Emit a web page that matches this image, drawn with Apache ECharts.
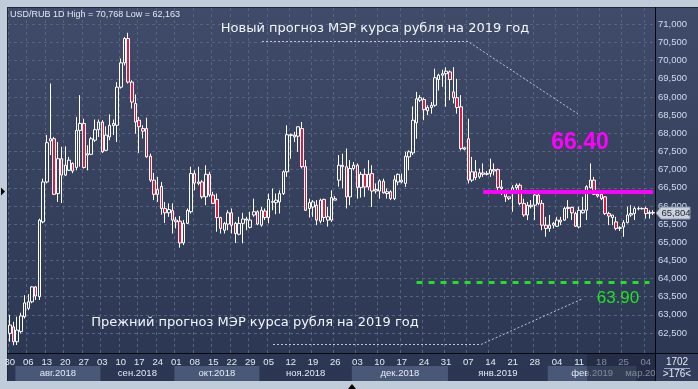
<!DOCTYPE html>
<html><head><meta charset="utf-8">
<script src="https://cdn.jsdelivr.net/npm/echarts@6/dist/echarts.min.js"></script>
<style>html,body{margin:0;padding:0;background:#c0ccda;}#c{width:698px;height:389px;}</style>
</head><body><div id="c"></div>
<script>
// ---- data ----
// daily candles USD/RUB: [open, close, low, high]
const candles = [
[62.49,62.72,62.26,63.00],[62.67,62.26,62.163,62.81],[62.26,62.58,62.17,62.95],[62.54,62.97,62.49,63.06],[62.95,63.33,62.90,63.54],
[63.18,63.36,63.13,63.57],[63.36,63.77,63.32,63.79],[63.77,63.52,63.41,63.79],[63.50,65.61,63.41,65.65],[65.56,66.66,65.52,66.75],
[66.66,67.74,66.62,67.95],[67.79,67.85,67.40,69.37],[67.85,66.32,66.30,67.90],[66.34,67.30,66.11,67.76],[67.30,66.85,66.08,67.63],
[66.85,67.12,66.82,67.64],[66.98,67.26,66.96,67.35],[67.17,66.96,66.90,67.20],[67.06,68.08,66.98,68.45],[68.08,68.27,67.08,69.05],
[68.27,67.06,67.03,68.40],[67.40,67.44,66.98,67.67],[67.42,67.85,67.40,67.90],[67.81,68.10,67.76,68.38],[68.10,68.31,67.90,68.38],
[68.31,67.49,67.46,68.36],[67.53,67.95,67.52,68.19],[67.90,68.22,67.81,68.52],[68.21,68.27,67.95,68.38],[68.22,69.27,67.76,69.41],
[69.27,69.94,69.23,70.06],[69.94,70.61,69.87,70.65],[70.61,69.41,69.37,70.768],[69.41,68.86,68.68,69.46],[68.82,68.31,67.99,69.07],
[68.36,68.18,67.46,68.45],[68.13,68.06,67.86,68.22],[68.13,67.35,67.33,68.43],[67.37,66.71,66.66,67.44],[66.71,66.32,66.16,66.91],
[66.32,66.45,66.11,66.80],[66.54,65.93,65.76,66.66],[65.93,65.81,65.53,66.11],[65.81,65.90,65.70,66.07],[65.87,65.61,65.24,66.07],
[65.61,65.56,65.38,65.70],[65.58,64.98,64.85,65.72],[64.98,65.52,64.92,65.61],[65.52,65.88,65.50,65.93],[65.84,66.89,65.79,67.08],
[66.89,66.63,66.43,66.98],[66.62,66.66,66.57,67.08],[66.66,66.25,66.20,66.71],[66.25,66.87,66.02,67.12],[66.87,66.30,66.25,66.94],
[66.30,66.07,66.05,66.39],[66.18,65.68,65.29,66.34],[65.68,65.38,65.24,65.70],[65.33,65.52,65.24,65.56],[65.50,65.81,65.33,65.88],
[65.81,65.47,65.24,65.93],[65.52,65.24,64.98,65.56],[65.22,65.52,65.19,65.70],[65.52,65.64,64.97,65.81],[65.64,65.61,65.33,65.70],
[65.41,65.61,65.38,65.84],[65.75,65.84,65.70,66.20],[65.84,65.50,65.47,65.88],[65.47,65.88,65.43,65.97],[65.86,65.68,65.61,65.93],
[65.68,66.18,65.52,66.34],[66.10,66.12,65.88,66.48],[66.09,66.16,65.77,66.34],[66.11,66.34,65.79,66.43],[66.34,66.94,66.30,66.98],
[66.94,67.96,66.80,68.22],[67.96,67.94,67.30,67.99],[67.90,67.95,67.76,68.04],[67.92,68.18,67.49,68.19],[68.13,67.08,67.03,68.31],
[67.08,65.88,65.86,67.26],[65.93,66.09,65.68,66.20],[65.97,66.11,65.70,66.16],[66.02,65.61,65.47,66.16],[65.58,66.16,65.52,66.20],
[66.18,65.68,65.56,66.20],[65.61,65.70,65.43,65.97],[65.61,66.23,65.56,66.43],[66.16,66.20,66.16,66.27],[66.71,67.12,66.53,67.40],
[67.08,67.12,66.48,67.44],[67.08,66.25,65.93,67.58],[66.25,67.03,66.02,67.26],[67.03,67.12,66.98,67.21],[67.12,66.51,66.20,67.17],
[66.51,66.87,66.23,66.94],[66.87,66.52,66.25,67.03],[66.52,66.87,66.43,67.26],[66.89,66.41,65.97,67.12],[66.41,66.45,66.34,66.62],
[66.41,66.69,66.20,66.73],[66.68,66.36,66.34,66.75],[66.34,66.39,66.20,66.48],[66.39,66.20,66.16,66.43],[66.20,66.72,66.16,66.84],
[66.66,66.87,66.57,66.89],[66.66,66.71,66.62,66.89],[66.62,67.37,66.52,67.49],[67.35,67.49,66.98,67.53],[67.46,68.36,67.40,68.74],
[68.29,68.95,67.85,69.14],[68.91,68.98,68.86,69.05],[68.93,68.65,68.36,68.98],[68.62,68.71,68.50,68.77],[68.71,68.77,68.54,68.86],
[68.77,69.53,68.73,69.78],[69.48,69.60,69.18,69.64],[69.60,69.64,69.28,69.75],[69.64,69.71,68.73,69.82],[69.69,69.48,68.91,69.73],
[69.14,68.98,68.82,69.82],[68.98,68.71,68.54,69.50],[68.73,67.58,67.53,69.05],[67.60,67.56,67.53,67.63],[67.85,66.71,66.62,68.40],
[66.71,66.94,66.66,67.35],[66.94,66.78,66.71,67.26],[66.80,66.91,66.75,67.03],[66.91,66.87,66.80,67.17],[66.87,66.89,66.84,66.96],
[66.89,67.00,66.80,67.30],[67.00,66.96,66.84,67.17],[67.00,66.51,66.43,67.03],[66.48,66.52,66.30,66.71],[66.41,66.25,66.11,66.45],
[66.25,66.20,66.16,66.25],[66.34,66.50,65.84,66.57],[66.50,66.57,66.34,66.62],[66.57,66.07,66.02,66.62],[66.07,65.75,65.70,66.20],
[65.75,66.02,65.61,66.11],[66.02,65.98,65.93,66.16],[66.02,66.30,65.61,66.34],[66.30,66.07,66.02,66.39],[66.07,65.47,65.33,66.16],
[65.47,65.38,65.15,65.70],[65.38,65.47,65.29,65.75],[65.47,65.52,65.38,65.56],[65.44,65.61,65.42,65.70],[65.61,65.56,65.47,65.70],
[65.61,65.93,65.59,65.98],[65.93,65.96,65.66,66.16],[65.96,65.81,65.61,65.98],[65.79,65.44,65.42,65.84],[65.42,65.88,65.38,65.98],
[65.81,65.88,65.79,66.25],[65.88,66.53,65.61,66.57],[66.50,66.71,66.48,67.17],[66.71,66.32,66.30,66.80],[66.32,66.27,66.23,66.36],
[66.32,66.20,66.16,66.39],[66.25,65.79,65.75,66.27],[65.79,65.72,65.47,65.84],[65.68,65.75,65.47,65.75],[65.56,65.38,65.33,65.70],
[65.38,65.40,65.31,65.44],[65.42,65.54,65.15,65.61],[65.54,65.75,65.52,65.98],[65.75,65.79,65.70,66.02],[65.79,65.93,65.61,65.98],
[65.93,65.92,65.88,65.98],[65.92,65.93,65.90,65.96],[65.93,65.79,65.65,65.98],[65.79,65.82,65.65,65.88],[65.82,65.804,65.75,65.88]
];
const yTicks = [62.5,63,63.5,64,64.5,65,65.5,66,66.5,67,67.5,68,68.5,69,69.5,70,70.5,71];
const newForecast = 66.40;
const oldForecast = 63.90;
const newForecastFrom = 128, newForecastTo = 174;
const oldForecastFrom = 110, oldForecastTo = 173;
const monthNames = ['янв','фев','мар','апр','мая','июн','июл','авг','сен','окт','ноя','дек'];
const newText = 'Новый прогноз МЭР курса рубля на 2019 год';
const oldText = 'Прежний прогноз МЭР курса рубля на 2019 год';

// trading-day categories: Mon-Fri, then Mon-Sat bars from 5 Nov 2018
const firstDay = Date.UTC(2018, 6, 30);
const sixDayFrom = Date.UTC(2018, 10, 5);
const dates = [];
for (let t = firstDay; dates.length < candles.length; t += 86400000) {
  const d = new Date(t).getUTCDay();
  if ((d >= 1 && d <= 5) || (d === 6 && t >= sixDayFrom)) dates.push(new Date(t).toISOString().slice(0, 10));
}
const isWeekStart = i => i === 0 || new Date(dates[i] + 'T00:00:00Z').getUTCDay() === 1;
const fmt3 = v => v.toFixed(3).replace('.', ',');

const FONT = '"Liberation Sans", Arial, sans-serif';
const GL = 8, GT = 8, GR = 655, GB = 353;

const chart = echarts.init(document.getElementById('c'), null, {renderer: 'canvas'});
chart.setOption({
  animation: false,
  backgroundColor: '#c0ccda',
  grid: {left: GL, top: GT, right: 698 - GR, bottom: 389 - GB, containLabel: false},
  xAxis: {
    type: 'category', data: dates, boundaryGap: true,
    axisLine: {show: true, lineStyle: {color: '#05080f', width: 1}},
    axisTick: {show: false},
    axisLabel: {interval: (i) => isWeekStart(i), formatter: v => v.slice(8, 10),
      color: '#e4ebf4', fontSize: 9.5, fontFamily: FONT, margin: 4},
    splitLine: {show: true, interval: (i) => isWeekStart(i),
      lineStyle: {color: '#56637f', width: 1, type: [3, 3]}}
  },
  yAxis: {
    type: 'value', position: 'right', min: 61.95, max: 71.45, scale: true,
    axisLine: {show: true, lineStyle: {color: '#05080f', width: 1}},
    axisTick: {show: false, customValues: yTicks},
    axisLabel: {customValues: yTicks, formatter: v => fmt3(v), color: '#cddcf2',
      fontSize: 9.5, fontFamily: FONT, margin: 3},
    splitLine: {show: true, lineStyle: {color: '#56637f', width: 1, type: [3, 3]}}
  },
  series: [{
    type: 'candlestick', data: candles, barWidth: 3,
    itemStyle: {color: 'rgba(0,0,0,0)', color0: '#e8163c', borderColor: '#ffffff', borderColor0: '#ffffff', borderWidth: 1},
    markLine: {
      symbol: 'none', silent: true, animation: false, label: {show: false},
      emphasis: {disabled: true},
      data: [
        [{coord: [dates[newForecastFrom], newForecast], lineStyle: {color: '#ff00ff', width: 4, type: 'solid', opacity: 1}},
         {coord: [dates[newForecastTo], newForecast]}],
        [{coord: [dates[oldForecastFrom], oldForecast], lineStyle: {color: '#22e022', width: 3, type: [6, 6], opacity: 1}},
         {coord: [dates[oldForecastTo], oldForecast]}]
      ]
    }
  }]
});

// ---- decorations built from the library's scales ----
const xOf = i => chart.convertToPixel({xAxisIndex: 0}, dates[i]);
const yOf = v => chart.convertToPixel({yAxisIndex: 0}, v);
const bw = (GR - GL) / dates.length;
const g = [];
// panel background
g.push({type: 'rect', z: -20, shape: {x: 7, y: 7, width: 691, height: 374},
  style: {fill: new echarts.graphic.LinearGradient(0, 0, 0, 1, [{offset: 0, color: '#3f4b68'}, {offset: 1, color: '#2b3652'}])}});
g.push({type: 'line', z: -19, shape: {x1: 7, y1: 7.5, x2: 698, y2: 7.5}, style: {stroke: '#1e2638', lineWidth: 1}});
g.push({type: 'line', z: -19, shape: {x1: 7.5, y1: 7, x2: 7.5, y2: 381}, style: {stroke: '#1e2638', lineWidth: 1}});
g.push({type: 'line', z: 4, shape: {x1: GR + 0.5, y1: 7, x2: GR + 0.5, y2: 381}, style: {stroke: '#05080f', lineWidth: 1}});
g.push({type: 'line', z: 4, shape: {x1: 7, y1: GB + 0.5, x2: 698, y2: GB + 0.5}, style: {stroke: '#05080f', lineWidth: 1}});

// month bands
let start = 0;
for (let i = 1; i <= dates.length; i++) {
  if (i === dates.length || dates[i].slice(0, 7) !== dates[start].slice(0, 7)) {
    const m = +dates[start].slice(5, 7), y = dates[start].slice(0, 4);
    const x0 = Math.max(GL, xOf(start) - bw / 2), x1 = Math.min(GR, xOf(i - 1) + bw / 2);
    if (m % 2 === 0) g.push({type: 'rect', z: -15, shape: {x: x0, y: 366, width: x1 - x0, height: 15}, style: {fill: '#4a5877'}});
    if (x1 - x0 > 15) g.push({type: 'text', z: 3, style: {text: monthNames[m - 1] + '.' + y, x: (x0 + x1) / 2, y: 373.5,
      fill: '#e4ebf4', font: '9.5px ' + FONT, textAlign: 'center', textVerticalAlign: 'middle'}});
    start = i;
  }
}
// dimmed region on the date scale
g.push({type: 'rect', z: 5, shape: {x: 587, y: GB + 1, width: GR - 587, height: 381 - GB - 1}, style: {fill: 'rgba(28,36,56,0.5)'}});
// bottom-right counter box
g.push({type: 'rect', z: 6, shape: {x: GR + 1, y: GB + 1, width: 698 - GR - 1, height: 381 - GB - 1}, style: {fill: '#313d5a'}});
g.push({type: 'text', z: 7, style: {text: '1702', x: 677, y: 362, fill: '#e4ebf4', font: '10px ' + FONT, textAlign: 'center', textVerticalAlign: 'middle'}});
g.push({type: 'line', z: 7, shape: {x1: 664, y1: 368.5, x2: 690, y2: 368.5}, style: {stroke: '#9aa6ba', lineWidth: 1}});
g.push({type: 'text', z: 7, style: {text: '>176<', x: 677, y: 374.5, fill: '#e4ebf4', font: '10px ' + FONT, textAlign: 'center', textVerticalAlign: 'middle'}});

// title
const hi = Math.max(...candles.map(c => c[3])), lo = Math.min(...candles.map(c => c[2]));
g.push({type: 'text', z: 6, style: {text: 'USD/RUB 1D High = ' + fmt3(hi) + ' Low = ' + fmt3(lo), x: 10, y: 15,
  fill: '#e2e9f3', font: '9px ' + FONT, textVerticalAlign: 'middle'}});

// annotations
g.push({type: 'text', z: 6, style: {text: newText, x: 375, y: 29, fill: '#f2f5fa', font: '13px "DejaVu Sans", sans-serif', textAlign: 'center', textVerticalAlign: 'middle'}});
g.push({type: 'polyline', z: 6, shape: {points: [[262, 41.5], [468, 41.5], [578, 114]]}, style: {stroke: 'rgba(215,222,235,0.85)', lineWidth: 1, lineDash: [2, 2], fill: null}});
g.push({type: 'text', z: 6, style: {text: oldText, x: 255, y: 323, fill: '#f2f5fa', font: '13px "DejaVu Sans", sans-serif', textAlign: 'center', textVerticalAlign: 'middle'}});
g.push({type: 'polyline', z: 6, shape: {points: [[273, 344.5], [481, 344.5], [582, 299]]}, style: {stroke: 'rgba(215,222,235,0.85)', lineWidth: 1, lineDash: [2, 2], fill: null}});
g.push({type: 'text', z: 6, style: {text: newForecast.toFixed(2), x: 580, y: yOf(newForecast) - 49, fill: '#ff00ff', font: 'bold 23px ' + FONT, textAlign: 'center', textVerticalAlign: 'middle'}});
g.push({type: 'text', z: 6, style: {text: oldForecast.toFixed(2), x: 618, y: yOf(oldForecast) + 16, fill: '#22e022', font: '17px ' + FONT, textAlign: 'center', textVerticalAlign: 'middle'}});

// last price tag
const last = candles[candles.length - 1][1];
const ly = yOf(last);
g.push({type: 'polygon', z: 6, shape: {points: [[656, ly], [661, ly - 6], [690, ly - 6], [690, ly + 6], [661, ly + 6]]}, style: {fill: '#c9d1db', stroke: '#8a96a8', lineWidth: 1}});
g.push({type: 'text', z: 7, style: {text: fmt3(last), x: 676, y: ly, fill: '#1e2536', font: '9.5px ' + FONT, textAlign: 'center', textVerticalAlign: 'middle'}});
// small markers on the frame
g.push({type: 'polygon', z: 6, shape: {points: [[1, yOf(newForecast) - 4], [5, yOf(newForecast)], [1, yOf(newForecast) + 4]]}, style: {fill: '#000'}});
g.push({type: 'polygon', z: 6, shape: {points: [[348, 389], [352, 384], [356, 389]]}, style: {fill: '#000'}});

chart.setOption({graphic: {elements: g}});
</script>
</body></html>
